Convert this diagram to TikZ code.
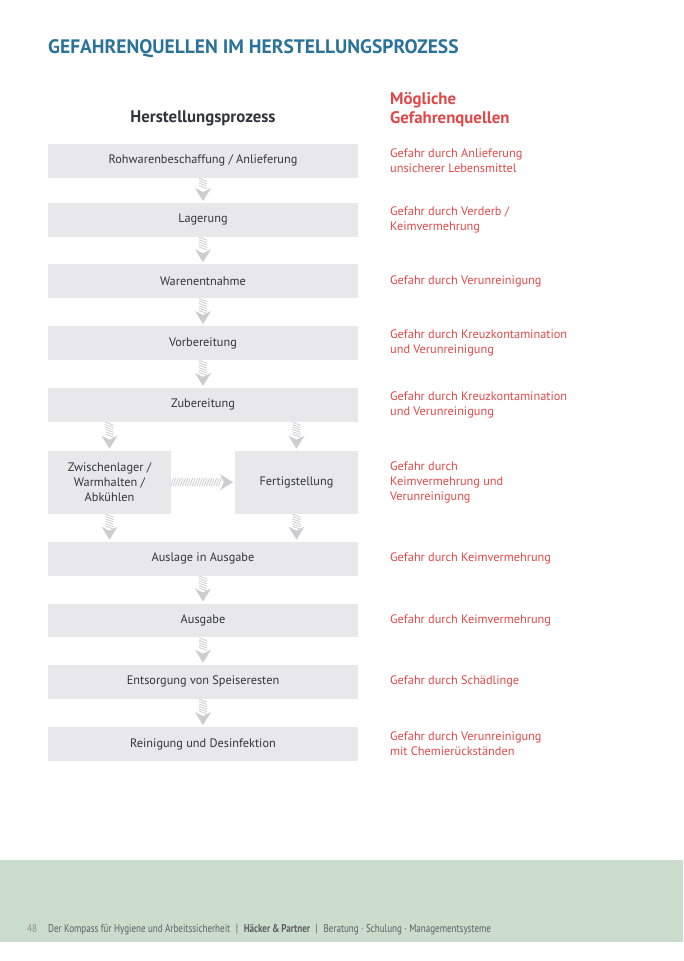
\documentclass[tikz,border=0pt]{standalone}
\usepackage{fontspec}
\setmainfont{PT Sans}
\newfontfamily\narrowfont[FakeStretch=0.8]{PT Sans}
\usetikzlibrary{positioning,decorations.markings}

\definecolor{titleblue}{HTML}{2B7299}
\definecolor{hazardred}{HTML}{E04848}
\definecolor{boxgray}{HTML}{E8E8EA}
\definecolor{textdark}{HTML}{34343E}
\definecolor{arrowgray}{HTML}{CDCDD0}
\definecolor{footergreen}{HTML}{CBDCCD}
\definecolor{footertext}{HTML}{5E5E64}

\begin{document}
\begin{tikzpicture}[
    x=1pt, y=-1pt,
    font=\fontsize{12.3}{15}\selectfont,
    box/.style={fill=boxgray, text=textdark, minimum width=310pt, minimum height=33.8pt,
                inner sep=0pt, outer sep=0pt, align=center},
    halfbox/.style={box, minimum width=123pt, minimum height=63pt},
    hazard/.style={text=hazardred, align=left, inner sep=0pt},
    colhead/.style={font=\fontsize{16.8}{19}\selectfont\bfseries, inner sep=0pt},
    footer/.style={font=\narrowfont\fontsize{11.3}{12}\selectfont, text=footertext, inner sep=0pt},
    hatcharr/.style={postaction={decorate}, decoration={markings,
        mark=between positions 0 and -12pt step 2.4pt with
            {\draw[arrowgray, line width=0.8pt] (-1.5pt,-4pt) -- (1.5pt,4pt);},
        mark=at position 1 with
            {\fill[arrowgray] (0,0) -- (-13pt,8pt) -- (-9pt,0) -- (-13pt,-8pt) -- cycle;}}}
]
\useasboundingbox (0,0) rectangle (683,961);

% title and column heads
\node[anchor=base west, inner sep=0pt, text=titleblue,
      font=\fontsize{19.5}{22}\selectfont\bfseries] (title) at (48,53)
     {GEFAHRENQUELLEN IM HERSTELLUNGSPROZESS};
\node[colhead, text=textdark] (hproc) at (203,118) {Herstellungsprozess};
\node[colhead, text=hazardred, anchor=west, align=left] (hhaz) at (390,110) {Mögliche\\Gefahrenquellen};

% process steps
\node[box, anchor=north west] (roh) at (48,144) {Rohwarenbeschaffung / Anlieferung};
\node[box, below=25.2pt of roh] (lag) {Lagerung};
\node[box, below=27.5pt of lag] (ware) {Warenentnahme};
\node[box, below=28pt of ware] (vor) {Vorbereitung};
\node[box, below=28pt of vor] (zub) {Zubereitung};
\node[halfbox, below=29pt of zub.south west, anchor=north west] (zwi) {Zwischenlager /\\Warmhalten /\\Abkühlen};
\node[halfbox, below=29pt of zub.south east, anchor=north east] (fert) {Fertigstellung};
\node[box, below=28pt of zwi.south west, anchor=north west] (ausl) {Auslage in Ausgabe};
\node[box, below=28pt of ausl] (ausg) {Ausgabe};
\node[box, below=27.5pt of ausg] (ents) {Entsorgung von Speiseresten};
\node[box, below=28.5pt of ents] (rein) {Reinigung und Desinfektion};

% hazards
\node[hazard, right=32pt of roh] (hroh) {Gefahr durch Anlieferung\\unsicherer Lebensmittel};
\node[hazard, right=32pt of lag] (hlag) {Gefahr durch Verderb /\\Keimvermehrung};
\node[hazard, right=32pt of ware] (hware) {Gefahr durch Verunreinigung};
\node[hazard, right=32pt of vor] (hvor) {Gefahr durch Kreuzkontamination\\und Verunreinigung};
\node[hazard, right=32pt of zub] (hzub) {Gefahr durch Kreuzkontamination\\und Verunreinigung};
\node[hazard, right=32pt of fert] (hfert) {Gefahr durch\\Keimvermehrung und\\Verunreinigung};
\node[hazard, right=32pt of ausl] (hausl) {Gefahr durch Keimvermehrung};
\node[hazard, right=32pt of ausg] (hausg) {Gefahr durch Keimvermehrung};
\node[hazard, right=32pt of ents] (hents) {Gefahr durch Schädlinge};
\node[hazard, right=32pt of rein] (hrein) {Gefahr durch Verunreinigung\\mit Chemierückständen};

% hatched arrows
\foreach \a/\b in {roh/lag, lag/ware, ware/vor, vor/zub, ausl/ausg, ausg/ents, ents/rein}
    \path[hatcharr] ([yshift=-2pt]\a.south) -- ([yshift=2pt]\b.north);
\path[hatcharr] ([yshift=-2pt]zub.south -| zwi.north) -- ([yshift=2pt]zwi.north);
\path[hatcharr] ([yshift=-2pt]zub.south -| fert.north) -- ([yshift=2pt]fert.north);
\path[hatcharr] ([yshift=-2pt]zwi.south) -- ([yshift=2pt]zwi.south |- ausl.north);
\path[hatcharr] ([yshift=-2pt]fert.south) -- ([yshift=2pt]fert.south |- ausl.north);
\path[hatcharr] ([xshift=1pt]zwi.east) -- ([xshift=-2pt]fert.west);

% footer
\fill[footergreen] (0,860) rectangle (683,942);
\node[footer, anchor=base west, text=footertext!70] (pagenr) at (27,932) {48};
\node[footer, anchor=base west] (foottext) at (48,932)
     {Der Kompass für Hygiene und Arbeitssicherheit\enspace{\large|}\enspace\textbf{Häcker\,\&\,Partner}\enspace{\large|}\enspace Beratung · Schulung · Managementsysteme};
\end{tikzpicture}
\end{document}
